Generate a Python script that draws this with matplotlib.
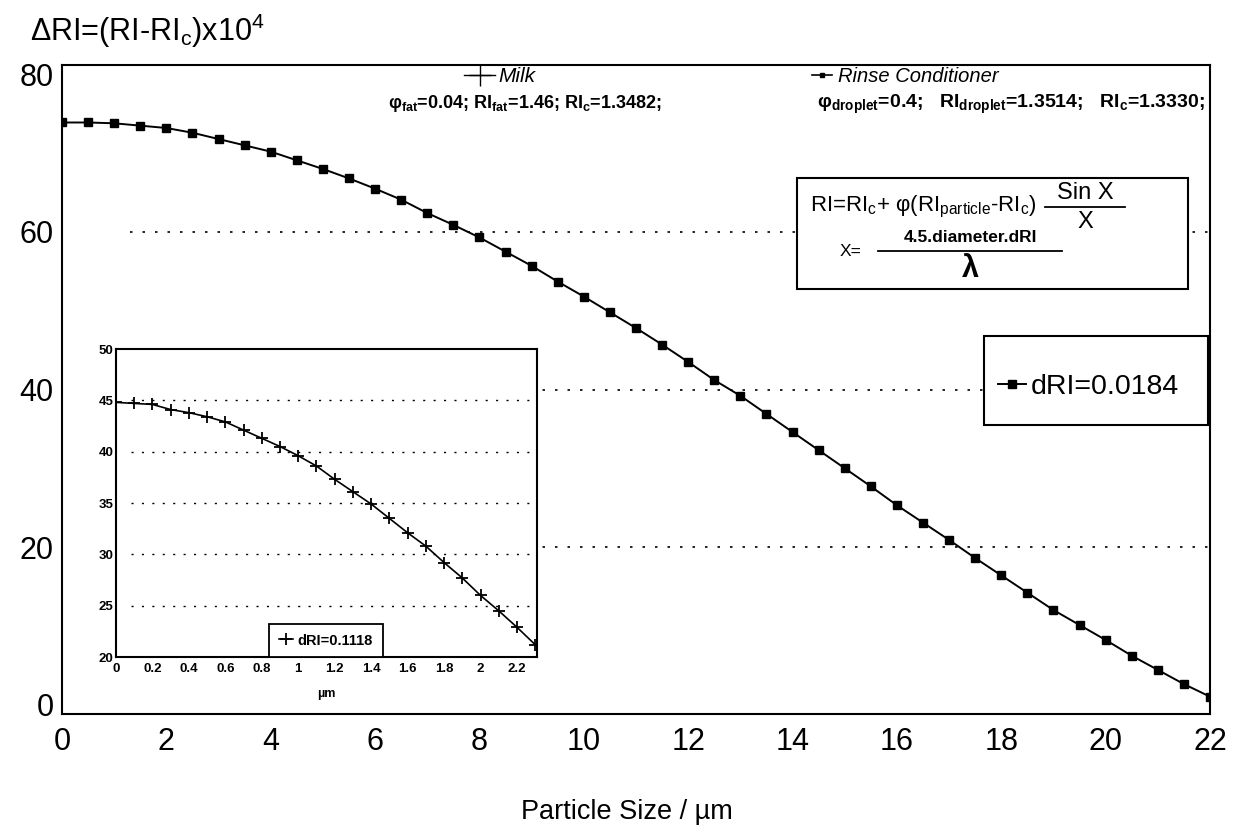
import matplotlib.pyplot as plt
from matplotlib.lines import Line2D
from matplotlib.patches import Rectangle

plt.rcParams['font.family'] = ['Liberation Sans', 'DejaVu Sans']
plt.rcParams['mathtext.fontset'] = 'custom'
plt.rcParams['mathtext.rm'] = 'Liberation Sans'
plt.rcParams['mathtext.it'] = 'Liberation Sans:italic'
plt.rcParams['mathtext.bf'] = 'Liberation Sans:bold'
plt.rcParams['mathtext.default'] = 'regular'

# rinse conditioner (main plot), dRI=0.0184
size_rc = [0, 0.5, 1, 1.5, 2, 2.5, 3, 3.5, 4, 4.5, 5, 5.5, 6, 6.5, 7, 7.5,
           8, 8.5, 9, 9.5, 10, 10.5, 11, 11.5, 12, 12.5, 13, 13.5, 14, 14.5,
           15, 15.5, 16, 16.5, 17, 17.5, 18, 18.5, 19, 19.5, 20, 20.5, 21, 21.5, 22]
dri_rc = [73.9, 73.9, 73.8, 73.5, 73.2, 72.6, 71.8, 71.0, 70.2, 69.1, 68.0, 66.8,
          65.5, 64.1, 62.4, 60.9, 59.3, 57.5, 55.7, 53.7, 51.8, 49.8, 47.8, 45.7,
          43.5, 41.2, 39.2, 36.9, 34.6, 32.3, 30.0, 27.7, 25.3, 23.1, 20.9, 18.6,
          16.4, 14.2, 12.0, 10.1, 8.2, 6.2, 4.4, 2.6, 1.0]

# milk (inset), dRI=0.1118
size_milk = [0, 0.1, 0.2, 0.3, 0.4, 0.5, 0.6, 0.7, 0.8, 0.9, 1.0, 1.1,
             1.2, 1.3, 1.4, 1.5, 1.6, 1.7, 1.8, 1.9, 2.0, 2.1, 2.2, 2.3]
dri_milk = [44.8, 44.7, 44.6, 44.1, 43.8, 43.4, 42.9, 42.1, 41.3, 40.5, 39.6, 38.6,
            37.3, 36.1, 34.9, 33.5, 32.1, 30.8, 29.2, 27.7, 26.0, 24.5, 22.9, 21.2]

main_xticks = [0, 2, 4, 6, 8, 10, 12, 14, 16, 18, 20, 22]
main_yticks = [0, 20, 40, 60, 80]
main_grid = [20, 40, 60]
inset_xticks = [0, 0.2, 0.4, 0.6, 0.8, 1, 1.2, 1.4, 1.6, 1.8, 2, 2.2]
inset_xlabels = ['0', '0.2', '0.4', '0.6', '0.8', '1', '1.2', '1.4', '1.6', '1.8', '2', '2.2']
inset_yticks = [20, 25, 30, 35, 40, 45, 50]
inset_grid = [25, 30, 35, 40, 45]

W, H = 1238, 834


def fx(px):
    return px / W


def fy(py):
    return 1 - py / H


fig = plt.figure(figsize=(W / 100, H / 100), dpi=100)

# main plot
ax = fig.add_axes([fx(62), fy(714), fx(1210) - fx(62), fy(65) - fy(714)])
ax.hlines(main_grid, 1.3, 22, colors='black', linestyles=(0, (1.5, 6)), lw=1.2, zorder=1)
line_rc, = ax.plot(size_rc, dri_rc, color='black', lw=1.4, marker='s', ms=5.5,
                   zorder=3, label='dRI=0.0184')
ax.set_xlim(0, 22)
ax.set_ylim(-1.2, 81.2)
ax.set_xticks(main_xticks)
ax.set_yticks(main_yticks)
ax.tick_params(length=0, labelsize=22)
ax.tick_params(axis='x', pad=9)
ax.tick_params(axis='y', pad=6)
for s in ax.spines.values():
    s.set_linewidth(1.5)

fig.text(fx(30), fy(31), 'ΔRI=(RI-RI$_c$)x10$^4$', fontsize=22, va='center', ha='left')
fig.text(fx(627), fy(812), 'Particle Size / µm', fontsize=19.5, va='center', ha='center')

# inset
axin = fig.add_axes([fx(116), fy(657), fx(537) - fx(116), fy(349) - fy(657)])
axin.set_facecolor('white')
axin.hlines(inset_grid, 0.08, 2.31, colors='black', linestyles=(0, (1.5, 6)), lw=1.0, zorder=1)
line_milk, = axin.plot(size_milk, dri_milk, color='black', lw=1.2, marker='+', ms=9,
                       mew=1.3, zorder=3, label='dRI=0.1118')
axin.set_xlim(0, 2.31)
axin.set_ylim(20, 50)
axin.set_xticks(inset_xticks)
axin.set_xticklabels(inset_xlabels)
axin.set_yticks(inset_yticks)
axin.tick_params(length=0, labelsize=9.5, pad=4)
axin.tick_params(axis='y', pad=2)
for lab in axin.get_xticklabels() + axin.get_yticklabels():
    lab.set_fontweight('bold')
axin.set_xlabel('µm', fontsize=9, fontweight='bold', labelpad=10)
for s in axin.spines.values():
    s.set_linewidth(1.5)
leg_in = axin.legend(handles=[line_milk], loc='lower center', bbox_to_anchor=(fx(326), fy(657)),
                     bbox_transform=fig.transFigure, borderaxespad=0, fancybox=False,
                     edgecolor='black', framealpha=1, handlelength=1.0, handletextpad=0.3,
                     borderpad=0.65, prop={'size': 10.5, 'weight': 'bold'})
leg_in.get_frame().set_linewidth(1.3)

# series names across the top
milk_h = Line2D([], [], color='black', lw=1, marker='+', ms=16, mew=1)
rc_h = Line2D([], [], color='black', lw=1.2, marker='s', ms=3.5)
fig.legend(handles=[milk_h], labels=['Milk'], loc='center left', bbox_to_anchor=(fx(464), fy(77)),
           frameon=False, borderaxespad=0, borderpad=0, handlelength=1.5, handletextpad=0.15,
           prop={'size': 15, 'style': 'italic'})
fig.legend(handles=[rc_h], labels=['Rinse Conditioner'], loc='center left',
           bbox_to_anchor=(fx(812), fy(77)), frameon=False, borderaxespad=0, borderpad=0,
           handlelength=1.0, handletextpad=0.3, prop={'size': 14.5, 'style': 'italic'})
fig.text(fx(388), fy(104), 'φ$_{fat}$=0.04; RI$_{fat}$=1.46; RI$_c$=1.3482;',
         fontsize=13, fontweight='bold', va='center', ha='left')
fig.text(fx(1205), fy(104), 'φ$_{droplet}$=0.4;   RI$_{droplet}$=1.3514;   RI$_c$=1.3330;',
         fontsize=14, fontweight='bold', va='center', ha='right')

# formula box
fig.add_artist(Rectangle((fx(797), fy(289)), fx(1188) - fx(797), fy(178) - fy(289),
                         transform=fig.transFigure, facecolor='white', edgecolor='black', lw=1.5))
fig.text(fx(810), fy(207), 'RI=RI$_c$+ φ(RI$_{particle}$-RI$_c$)', fontsize=16,
         va='center', ha='left')
fig.text(fx(1085), fy(193), 'Sin X', fontsize=17, va='center', ha='center')
fig.add_artist(Line2D([fx(1045), fx(1125)], [fy(207), fy(207)], color='black', lw=1.3,
                      transform=fig.transFigure))
fig.text(fx(1085), fy(222), 'X', fontsize=17, va='center', ha='center')
fig.text(fx(840), fy(252), 'X=', fontsize=12.5, va='center', ha='left')
fig.text(fx(970), fy(238), '4.5.diameter.dRI', fontsize=12.5, fontweight='bold',
         va='center', ha='center')
fig.add_artist(Line2D([fx(878), fx(1062)], [fy(251), fy(251)], color='black', lw=1.3,
                      transform=fig.transFigure))
fig.text(fx(970), fy(269), 'λ', fontsize=22, fontweight='bold', va='center', ha='center')

# main legend box
fig.add_artist(Rectangle((fx(984), fy(425)), fx(1208) - fx(984), fy(336) - fy(425),
                         transform=fig.transFigure, facecolor='white', edgecolor='black', lw=1.5))
fig.legend(handles=[line_rc], loc='center left', bbox_to_anchor=(fx(998), fy(387)),
           frameon=False, borderaxespad=0, borderpad=0, handlelength=1.0, handletextpad=0.15,
           prop={'size': 20.5})

fig.savefig('out.png', dpi=100)
